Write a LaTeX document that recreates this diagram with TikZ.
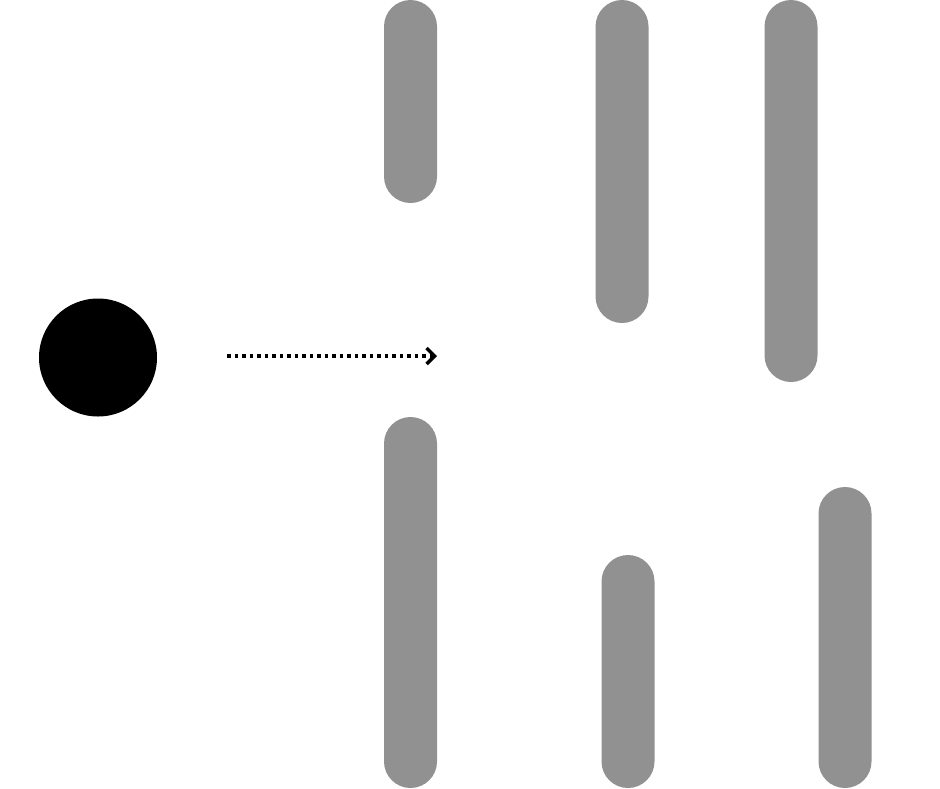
\documentclass[tikz,border=0pt]{standalone}
\usetikzlibrary{arrows.meta}
\definecolor{bargray}{HTML}{919191}
\tikzset{
  bar/.style={fill=bargray, draw=none, rounded corners=26.5pt, minimum width=53pt, inner sep=0pt, outer sep=0pt},
  ball/.style={circle, fill=black, draw=none, minimum size=118pt, inner sep=0pt},
  motion/.style={line width=3.5pt, dash pattern=on 3.5pt off 4pt, -{Straight Barb[length=8pt,width=16pt,line width=3.5pt]}}
}
\begin{document}
\begin{tikzpicture}[x=1pt,y=-1pt]
\useasboundingbox (0,0) rectangle (940,788);
\node[ball] (b) at (98,357.5) {};
\node[bar, minimum height=203pt] (b1) at (410.5,101.5) {};
\node[bar, minimum height=323pt] (b2) at (622,161.5) {};
\node[bar, minimum height=382pt] (b3) at (791,191) {};
\node[bar, minimum height=371pt] (b4) at (410.5,602.5) {};
\node[bar, minimum height=233pt] (b5) at (628,671.5) {};
\node[bar, minimum height=301pt] (b6) at (845,637.5) {};
\coordinate (s) at (227,356);
\coordinate (e) at (437,356);
\draw[motion] (s) -- (e);
\end{tikzpicture}
\end{document}
